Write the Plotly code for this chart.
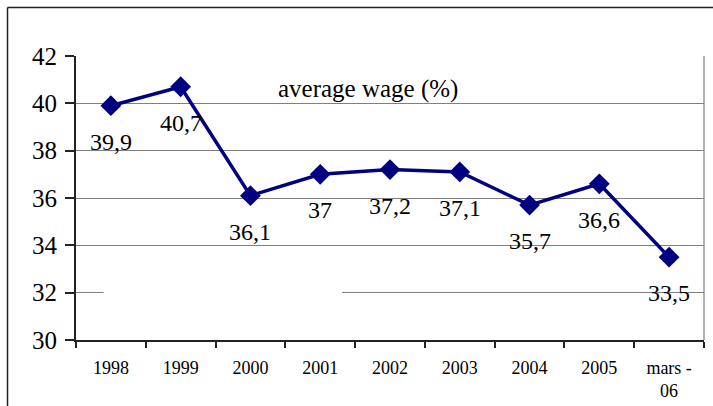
import plotly.graph_objects as go

categories = ["1998", "1999", "2000", "2001", "2002", "2003", "2004", "2005", "mars -<br>06"]
values = [39.9, 40.7, 36.1, 37.0, 37.2, 37.1, 35.7, 36.6, 33.5]
value_labels = ["39,9", "40,7", "36,1", "37", "37,2", "37,1", "35,7", "36,6", "33,5"]
y_ticks = [30, 32, 34, 36, 38, 40, 42]
title_text = "average wage (%)"

W, H = 713, 406
L, R, T, B = 76, 9, 56, 66
pw, ph = W - L - R, H - T - B

def px_x(px):
    return (px - L) / pw

def px_y(py):
    return (H - B - py) / ph

FONT = "Liberation Serif"
NAVY = "#000080"

fig = go.Figure()
fig.add_trace(go.Scatter(
    x=list(range(len(categories))), y=values, mode="lines+markers",
    line=dict(color=NAVY, width=3.5),
    marker=dict(symbol="diamond", size=16, color=NAVY),
    hoverinfo="skip", showlegend=False,
))

annotations = []
for i, (v, t) in enumerate(zip(values, value_labels)):
    annotations.append(dict(x=i, y=v, xref="x", yref="y", text=t, showarrow=False,
                            yshift=-36, font=dict(family=FONT, size=24, color="black")))
annotations.append(dict(x=px_x(368), y=px_y(73), xref="paper", yref="paper", text=title_text,
                        showarrow=False, font=dict(family=FONT, size=25, color="black")))

shapes = [
    dict(type="line", xref="paper", yref="paper", x0=px_x(7.5), x1=px_x(7.5), y0=px_y(7.5), y1=px_y(420),
         line=dict(color="#222222", width=1.5)),
    dict(type="line", xref="paper", yref="paper", x0=px_x(7.5), x1=px_x(730), y0=px_y(7.5), y1=px_y(7.5),
         line=dict(color="#222222", width=1.5)),
    dict(type="line", xref="paper", yref="y", x0=1, x1=1, y0=30, y1=42,
         line=dict(color="#808080", width=1.2), layer="below"),
    dict(type="rect", xref="paper", yref="y", x0=px_x(103.5), x1=px_x(342), y0=31.85, y1=32.15,
         fillcolor="white", line=dict(width=0), layer="above"),
]

fig.update_layout(
    width=W, height=H,
    margin=dict(l=L, r=R, t=T, b=B, autoexpand=False),
    paper_bgcolor="white", plot_bgcolor="white",
    annotations=annotations, shapes=shapes,
    font=dict(family=FONT, color="black"),
)
fig.update_xaxes(
    tickmode="array", tickvals=list(range(len(categories))), ticktext=categories,
    ticks="", showline=True, linecolor="#222222", linewidth=2,
    showgrid=False, tickfont=dict(family=FONT, size=18, color="black"),
    ticklabelstandoff=10, range=[-0.5, len(categories) - 0.5], zeroline=False,
    minor=dict(tickvals=[i - 0.5 for i in range(len(categories) + 1)], ticks="outside",
               ticklen=6, tickwidth=1.5, tickcolor="#222222", showgrid=False),
    automargin=False, fixedrange=True,
)
fig.update_yaxes(
    range=[30, 42], tickvals=y_ticks, ticktext=[str(v) for v in y_ticks],
    ticks="outside", ticklen=9, tickwidth=1.5, tickcolor="#222222",
    showline=True, linecolor="#222222", linewidth=2,
    showgrid=True, gridcolor="#808080", gridwidth=1.2, zeroline=False,
    tickfont=dict(family=FONT, size=25, color="black"), ticklabelstandoff=3,
    automargin=False, fixedrange=True,
)

fig.write_html("out.html", config={"displayModeBar": False},
               post_script="document.body.style.margin='0';document.body.style.overflow='hidden';")
